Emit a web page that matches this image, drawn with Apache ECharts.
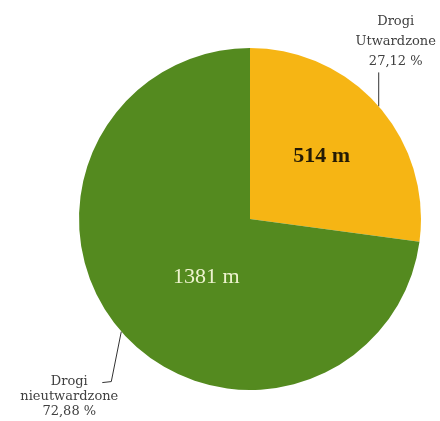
<!DOCTYPE html>
<html>
<head>
<meta charset="utf-8">
<script src="https://cdn.jsdelivr.net/npm/echarts@6/dist/echarts.min.js"></script>
<style>html,body{margin:0;padding:0;background:#fff;}#c{width:440px;height:421px;}</style>
</head>
<body>
<div id="c"></div>
<script>
var categories = ['Drogi\nUtwardzone', 'Drogi\nnieutwardzone'];
var lengthsM = [514, 1381];
var sliceColors = ['#F6B514', '#548A1F'];

var chart = echarts.init(document.getElementById('c'), null, {renderer: 'canvas'});

var baseSeries = {
  type: 'pie',
  center: [250, 219],
  radius: [0, 171],
  startAngle: 90,
  clockwise: true,
  percentPrecision: 2,
  animation: false,
  emphasis: { disabled: true },
  itemStyle: { borderWidth: 0 }
};

chart.setOption({
  backgroundColor: '#ffffff',
  series: [
    Object.assign({}, baseSeries, {
      data: categories.map(function (n, i) {
        return {
          name: n, value: lengthsM[i],
          itemStyle: { color: sliceColors[i] },
          label: { lineHeight: i === 0 ? 20 : 15 }
        };
      }),
      label: {
        show: true,
        position: 'outside',
        alignTo: 'none',
        overflow: 'none',
        width: 200,
        bleedMargin: 0,
        fontFamily: 'DejaVu Serif',
        fontSize: 13,
        color: '#404040',
        align: 'center',
        formatter: function (p) {
          return p.name + '\n' + p.percent.toFixed(2).replace('.', ',') + ' %';
        }
      },
      labelLine: { show: true, length: 10, length2: 10, lineStyle: { color: '#333', width: 1 } },
      labelLayout: function (p) {
        var pts = p.labelLinePoints;
        if (!pts) return {};
        var a = [pts[0][0], pts[0][1]];
        if (p.dataIndex === 0) {
          return {
            x: a[0] + 17, y: a[1] - 35,
            align: 'center', verticalAlign: 'bottom',
            labelLinePoints: [a, [a[0], a[1] - 34]]
          };
        }
        var b = [a[0] - 10, a[1] + 50];
        var c = [b[0] - 9, b[1] + 1];
        return {
          x: a[0] - 52, y: a[1] + 43,
          align: 'center', verticalAlign: 'top',
          labelLinePoints: [a, b, c]
        };
      }
    }),
    Object.assign({}, baseSeries, {
      silent: true,
      data: categories.map(function (n, i) {
        return {
          name: n, value: lengthsM[i],
          itemStyle: { color: 'rgba(0,0,0,0)' },
          label: i === 0
            ? { fontWeight: 'bold', color: '#241a05' }
            : { fontWeight: 'normal', color: '#EEF3CF' }
        };
      }),
      label: {
        show: true,
        position: 'inside',
        fontFamily: 'Liberation Serif',
        fontSize: 22,
        formatter: function (p) { return p.value + ' m'; }
      },
      labelLine: { show: false },
      labelLayout: function (p) {
        return p.dataIndex === 0 ? { dx: 5, dy: -4 } : { dx: 23, dy: 0 };
      }
    })
  ]
});
</script>
</body>
</html>
